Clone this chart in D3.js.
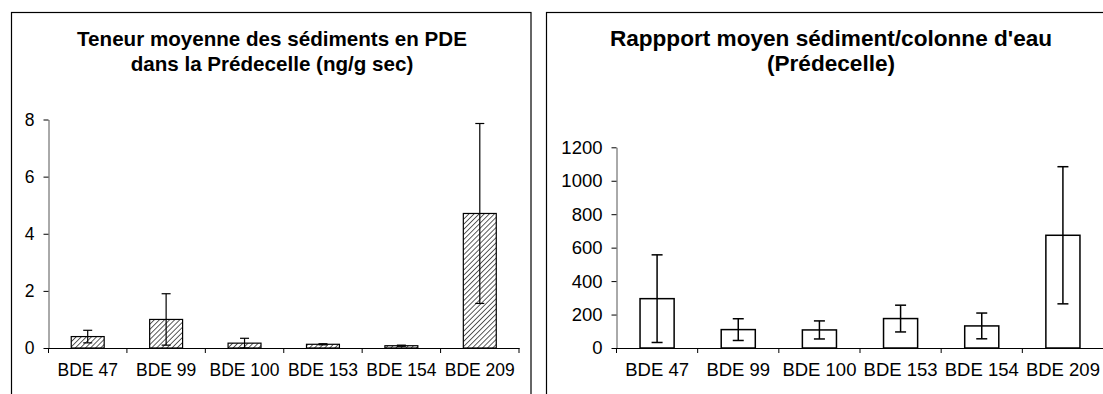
<!DOCTYPE html>
<html>
<head>
<meta charset="utf-8">
<script src="https://cdn.jsdelivr.net/npm/d3@7"></script>
<style>
  body { margin: 0; background: #fff; }
  text { font-family: "Liberation Sans", Arial, sans-serif; fill: #000; }
</style>
</head>
<body>
<div id="plot"></div>
<script>
// data
var categories = ["BDE 47", "BDE 99", "BDE 100", "BDE 153", "BDE 154", "BDE 209"];

var sedMeans = [0.40, 1.00, 0.17, 0.13, 0.08, 4.71];
var sedErr   = [0.22, 0.90, 0.17, 0.02, 0.02, 3.15];
var sedTicks = [0, 2, 4, 6, 8];

var ratioMeans = [295, 110, 108, 176, 132, 674];
var ratioErr   = [262, 65, 54, 80, 77, 410];
var ratioTicks = [0, 200, 400, 600, 800, 1000, 1200];

var sedTitle = ["Teneur moyenne des sédiments en PDE", "dans la Prédecelle (ng/g sec)"];
var ratioTitle = ["Rappport moyen sédiment/colonne d'eau", "(Prédecelle)"];

var svg = d3.select("#plot")
  .append("svg")
  .attr("width", 1103)
  .attr("height", 394);

// hatch pattern for the first chart
var defs = svg.append("defs");
defs.append("pattern")
  .attr("id", "hatch")
  .attr("patternUnits", "userSpaceOnUse")
  .attr("width", 3.6)
  .attr("height", 3.6)
  .attr("patternTransform", "rotate(45)")
  .append("line")
  .attr("x1", 0).attr("y1", 0)
  .attr("x2", 0).attr("y2", 3.6)
  .attr("stroke", "#333")
  .attr("stroke-width", 1.6);

function drawPanel(opt) {
  var g = svg.append("g");

  // frame
  g.append("rect")
    .attr("x", opt.frame[0])
    .attr("y", 12.5)
    .attr("width", opt.frame[1] - opt.frame[0])
    .attr("height", 420)
    .attr("fill", "#fff")
    .attr("stroke", "#000")
    .attr("stroke-width", 1.2);

  // title
  g.append("text")
    .attr("x", opt.titleX)
    .attr("text-anchor", "middle")
    .attr("font-weight", "bold")
    .attr("font-size", opt.titleSize)
    .selectAll("tspan")
    .data(opt.title)
    .enter()
    .append("tspan")
    .attr("x", opt.titleX)
    .attr("y", function(d, i) { return 46 + i * 25; })
    .text(function(d) { return d; });

  var x = d3.scaleBand()
    .domain(categories)
    .range(opt.xRange)
    .paddingInner(0.58)
    .paddingOuter(0.29);

  var y = d3.scaleLinear()
    .domain([0, opt.ticks[opt.ticks.length - 1]])
    .range(opt.yRange);

  // bars
  g.selectAll(".bar")
    .data(opt.means)
    .enter()
    .append("rect")
    .attr("class", "bar")
    .attr("x", function(d, i) { return x(categories[i]); })
    .attr("y", function(d) { return y(d); })
    .attr("width", x.bandwidth())
    .attr("height", function(d) { return y(0) - y(d); })
    .attr("fill", opt.fill)
    .attr("stroke", "#000")
    .attr("stroke-width", opt.barStroke);

  // error bars
  var eb = g.selectAll(".err")
    .data(opt.means)
    .enter()
    .append("g")
    .attr("class", "err")
    .attr("stroke", "#000")
    .attr("stroke-width", opt.errStroke);
  eb.append("line")
    .attr("x1", function(d, i) { return x(categories[i]) + x.bandwidth() / 2; })
    .attr("x2", function(d, i) { return x(categories[i]) + x.bandwidth() / 2; })
    .attr("y1", function(d, i) { return y(d + opt.err[i]); })
    .attr("y2", function(d, i) { return y(Math.max(0, d - opt.err[i])); });
  [1, -1].forEach(function(s) {
    eb.append("line")
      .attr("x1", function(d, i) { return x(categories[i]) + x.bandwidth() / 2 - opt.cap; })
      .attr("x2", function(d, i) { return x(categories[i]) + x.bandwidth() / 2 + opt.cap; })
      .attr("y1", function(d, i) { return y(Math.max(0, d + s * opt.err[i])); })
      .attr("y2", function(d, i) { return y(Math.max(0, d + s * opt.err[i])); });
  });

  // Y axis
  var yAxis = g.append("g")
    .attr("transform", "translate(" + opt.xRange[0] + ",0)")
    .call(d3.axisLeft(y).tickValues(opt.ticks).tickFormat(d3.format("d"))
      .tickSize(5).tickPadding(9).tickSizeOuter(0));
  yAxis.select(".domain").attr("stroke", "#555");
  yAxis.selectAll("text")
    .attr("font-size", opt.labelSize)
    .attr("font-family", "'Liberation Sans', Arial, sans-serif")
    .attr("fill", "#000");

  // X axis: labels centred, ticks between categories
  var xAxis = g.append("g")
    .attr("transform", "translate(0," + y(0) + ")")
    .call(d3.axisBottom(x).tickSize(0).tickPadding(opt.labelPad).tickSizeOuter(0));
  xAxis.select(".domain").attr("stroke", "#000");
  xAxis.selectAll("text")
    .attr("font-size", opt.labelSize)
    .attr("font-family", "'Liberation Sans', Arial, sans-serif")
    .attr("fill", "#000");

  g.selectAll(".xtick")
    .data(d3.range(categories.length + 1))
    .enter()
    .append("line")
    .attr("class", "xtick")
    .attr("x1", function(i) { return opt.xRange[0] + i * x.step(); })
    .attr("x2", function(i) { return opt.xRange[0] + i * x.step(); })
    .attr("y1", y(0))
    .attr("y2", y(0) + 5)
    .attr("stroke", "#000");
}

drawPanel({
  frame: [11.5, 531],
  title: sedTitle,
  titleX: 272,
  titleSize: 20.6,
  labelSize: 17.5,
  labelPad: 16,
  xRange: [48.5, 519],
  yRange: [348, 119.5],
  ticks: sedTicks,
  means: sedMeans,
  err: sedErr,
  fill: "url(#hatch)",
  barStroke: 1.2,
  errStroke: 1.2,
  cap: 4.5
});

drawPanel({
  frame: [546.5, 1118],
  title: ratioTitle,
  titleX: 831,
  titleSize: 22.6,
  labelSize: 18.5,
  labelPad: 15,
  xRange: [616.5, 1103.5],
  yRange: [348, 147.3],
  ticks: ratioTicks,
  means: ratioMeans,
  err: ratioErr,
  fill: "#fff",
  barStroke: 1.5,
  errStroke: 1.5,
  cap: 5.5
});
</script>
</body>
</html>
